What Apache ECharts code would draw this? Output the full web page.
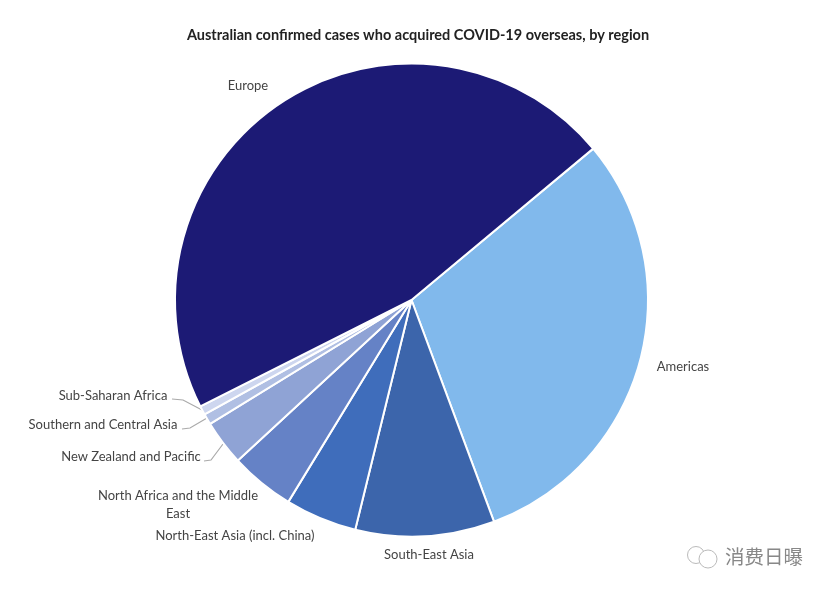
<!DOCTYPE html>
<html>
<head>
<meta charset="utf-8">
<script src="https://cdn.jsdelivr.net/npm/echarts@6/dist/echarts.min.js"></script>
<style>
html,body{margin:0;padding:0;background:#fff}
#main{width:830px;height:592px}
</style>
</head>
<body>
<div id="main"></div>
<script>
var regions = ['Americas', 'South-East Asia', 'North-East Asia (incl. China)', 'North Africa and the Middle\nEast',
    'New Zealand and Pacific', 'Southern and Central Asia', 'Sub-Saharan Africa', 'Europe'];
var shares = [30.4, 9.5, 4.9, 4.4, 3.1, 0.75, 0.6, 46.4];
var colors = ['#81b9ec', '#3c65ab', '#3f6dbb', '#6582c6', '#8fa3d5', '#b0bfe3', '#cdd6ef', '#1c1a75'];

// where each label sits, same order as regions
var labelSpots = [[683, 367], [429, 555], [235, 536], [178, 505], [131, 457], [103, 425], [113, 396], [248, 86]];
// leader lines only for the three small slices
var leaders = {
    4: [[204, 461], [211, 460], [223, 444]],
    5: [[182, 429], [190, 428], [207, 418]],
    6: [[172, 399], [183, 400], [202, 410]]
};

var data = [];
for (var i = 0; i < regions.length; i++) {
    data.push({
        name: regions[i],
        value: shares[i],
        itemStyle: {color: colors[i]},
        labelLine: {show: !!leaders[i]}
    });
}

var myChart = echarts.init(document.getElementById('main'));
var option = {
    backgroundColor: '#fff',
    animation: false,
    title: {
        text: 'Australian confirmed cases who acquired COVID-19 overseas, by region',
        left: 413,
        top: 23,
        textAlign: 'center',
        textStyle: {fontFamily: 'Lato', fontSize: 14.5, fontWeight: 'bold', color: '#222'}
    },
    series: [{
        type: 'pie',
        center: [411.5, 300],
        radius: [0, 236.5],
        startAngle: 39.8,
        data: data,
        itemStyle: {borderColor: '#fff', borderWidth: 2},
        label: {
            show: true,
            position: 'outside',
            formatter: '{b}',
            fontFamily: 'Lato',
            fontSize: 13,
            lineHeight: 18,
            color: '#444',
            align: 'center'
        },
        labelLine: {show: false, lineStyle: {color: '#aaa', width: 1.2}},
        labelLayout: function (params) {
            var spot = labelSpots[params.dataIndex];
            return {
                x: spot[0],
                y: spot[1],
                align: 'center',
                verticalAlign: 'middle',
                labelLinePoints: leaders[params.dataIndex]
            };
        }
    }],
    graphic: [
        {type: 'circle', shape: {cx: 696, cy: 555, r: 8.5}, style: {fill: 'none', stroke: '#bbb', lineWidth: 1}},
        {type: 'circle', shape: {cx: 708, cy: 559, r: 9}, style: {fill: '#fff', stroke: '#bbb', lineWidth: 1}},
        {type: 'text', x: 725, y: 557, style: {text: '消费日曝', fill: '#888', fontSize: 19.5,
            fontFamily: 'Noto Sans CJK SC', verticalAlign: 'middle'}}
    ]
};
myChart.setOption(option);
</script>
</body>
</html>
